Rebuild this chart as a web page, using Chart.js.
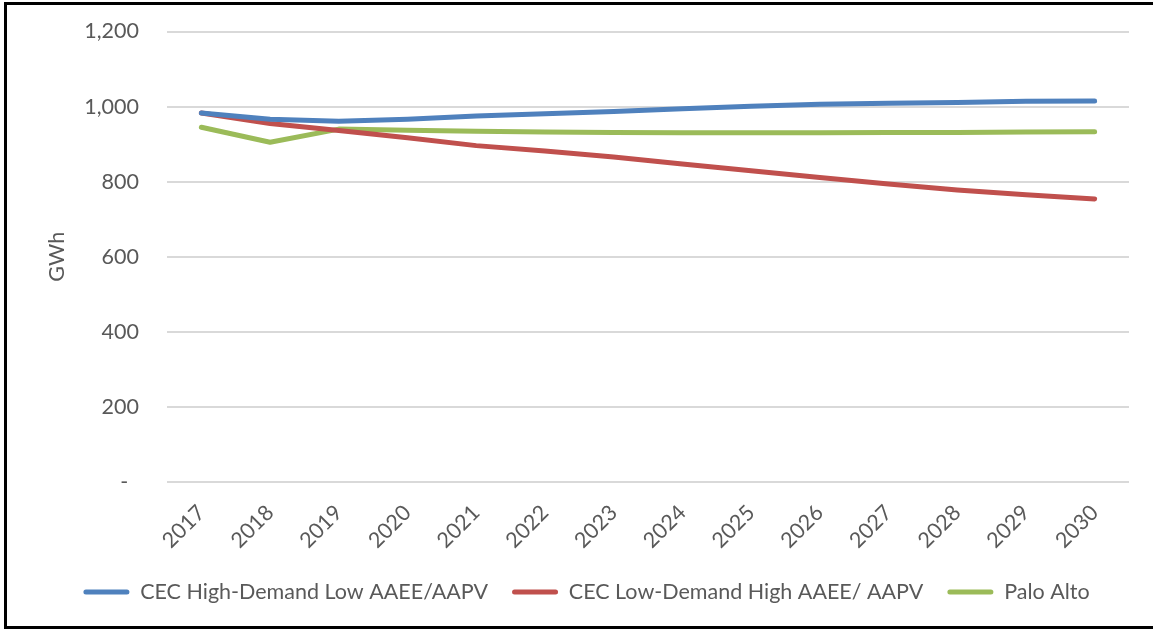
<!DOCTYPE html>
<html>
<head>
<meta charset="utf-8">
<script src="https://cdn.jsdelivr.net/npm/chart.js@4/dist/chart.umd.min.js"></script>
<style>
  html, body { margin: 0; padding: 0; background: #ffffff; }
  #wrap { position: relative; width: 1153px; height: 630px; overflow: hidden; background: #ffffff; }
  #frame { position: absolute; left: 4px; top: 2px; width: 1170px; height: 627px; border: 3px solid #000; box-sizing: border-box; }
  canvas { position: absolute; left: 0; top: 0; }
</style>
</head>
<body>
<div id="wrap">
  <div id="frame"></div>
  <canvas id="c" width="1153" height="630"></canvas>
</div>
<script>
// ---- data ----
const years = ['2017','2018','2019','2020','2021','2022','2023','2024','2025','2026','2027','2028','2029','2030'];
const cecHighDemand = [983, 966, 961, 966, 975, 981, 987, 994, 1001, 1006, 1009, 1011, 1014, 1015];
const cecLowDemand  = [983, 955, 936, 917, 896, 882, 866, 847, 829, 811, 794, 778, 765, 754];
const paloAlto      = [945, 905, 940, 937, 934, 932, 931, 930, 930, 930, 931, 931, 932, 933];
const seriesNames = ['CEC High-Demand Low AAEE/AAPV', 'CEC Low-Demand High AAEE/ AAPV', 'Palo Alto'];
const yTickValues = [0, 200, 400, 600, 800, 1000, 1200];
const yTickLabels = ['-', '200', '400', '600', '800', '1,000', '1,200'];
const yAxisTitle = 'GWh';

const FONT = 'Lato, "Noto Sans", sans-serif';
const FS = 21.5;
const TXT = '#595959';
const colors = ['#4F81BD', '#C0504D', '#9BBB59'];
const values = [cecHighDemand, cecLowDemand, paloAlto];

const datasets = values.map((v, i) => ({
  label: seriesNames[i],
  data: v,
  borderColor: colors[i],
  backgroundColor: colors[i],
  borderWidth: 5,
  borderCapStyle: 'round',
  borderJoinStyle: 'round',
  pointRadius: 0,
  pointHoverRadius: 0,
  tension: 0,
  fill: false
}));

new Chart(document.getElementById('c'), {
  type: 'line',
  data: { labels: years, datasets: datasets },
  options: {
    responsive: false,
    animation: false,
    devicePixelRatio: 1,
    layout: { padding: { left: 44, right: 24, top: 31.5, bottom: 17.25 } },
    plugins: {
      tooltip: { enabled: false },
      title: { display: false },
      legend: {
        position: 'bottom',
        align: 'center',
        labels: {
          font: { family: FONT, size: FS },
          color: TXT,
          boxWidth: 46,
          boxHeight: 5,
          padding: 24,
          useBorderRadius: true,
          borderRadius: 2.5,
          generateLabels: (chart) => chart.data.datasets.map((d, i) => ({
            text: d.label,
            fillStyle: d.borderColor,
            strokeStyle: d.borderColor,
            lineWidth: 0,
            borderRadius: 2.5,
            fontColor: TXT,
            hidden: false,
            datasetIndex: i
          }))
        }
      }
    },
    scales: {
      x: {
        offset: true,
        grid: { display: false, drawTicks: false, offset: true },
        border: { display: false },
        afterFit: (s) => { s.height = 75.25; },
        ticks: {
          autoSkip: false,
          maxRotation: 45,
          minRotation: 45,
          padding: 18,
          color: TXT,
          font: { family: FONT, size: FS }
        }
      },
      y: {
        min: 0,
        max: 1200,
        afterFit: (s) => { s.width = 123; s.paddingTop = 0; s.paddingBottom = 0; },
        afterBuildTicks: (s) => { s.ticks = yTickValues.map(v => ({ value: v })); },
        grid: { color: '#D9D9D9', lineWidth: 2, drawTicks: false },
        border: { display: false },
        ticks: {
          padding: 28,
          color: TXT,
          font: { family: FONT, size: FS },
          callback: (v) => {
            const i = yTickValues.indexOf(v);
            const t = i >= 0 ? yTickLabels[i] : '';
            return t === '-' ? '-\u2002' : t;
          }
        },
        title: {
          display: true,
          text: yAxisTitle,
          color: TXT,
          font: { family: FONT, size: FS },
          padding: { top: 0, bottom: 0 }
        }
      }
    }
  }
});
</script>
</body>
</html>
